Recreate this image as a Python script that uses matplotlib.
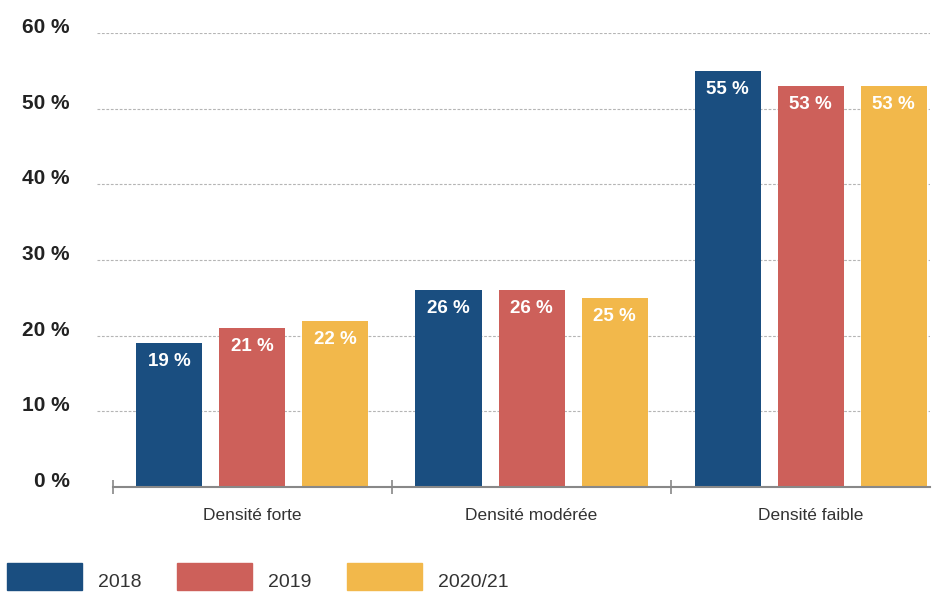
import numpy as np
import matplotlib.pyplot as plt
from matplotlib.patches import Rectangle

plt.rcParams['font.family'] = ['Liberation Sans', 'DejaVu Sans']

categories = ['Densité forte', 'Densité modérée', 'Densité faible']
years = ['2018', '2019', '2020/21']
values = {
    '2018': [19, 26, 55],
    '2019': [21, 26, 53],
    '2020/21': [22, 25, 53],
}
colors = ['#1a4e80', '#cd605a', '#f2b84b']
yticks = [0, 10, 20, 30, 40, 50, 60]

fig = plt.figure(figsize=(9.34, 5.92), dpi=100)
ax = fig.add_axes([0.1039, 0.1774, 0.8918, 0.7669])

x = np.arange(len(categories))
width = 0.2366
step = 0.2975

for i, year in enumerate(years):
    pos = x + (i - 1) * step
    bars = ax.bar(pos, values[year], width, color=colors[i], zorder=2)
    for b, v in zip(bars, values[year]):
        ax.text(b.get_x() + b.get_width() / 2, v - 1.35, f'{v} %',
                ha='center', va='top', color='white', fontsize=13.5,
                fontweight='bold', zorder=3)

ax.set_xlim(-0.557, 2.428)
ax.set_ylim(0, 60)
ax.set_yticks(yticks)
ax.set_yticklabels([f'{t} %' for t in yticks], fontsize=15, fontweight='bold',
                   color='#222222')
ax.tick_params(axis='y', length=0, pad=19.5)
# labels sit on the gridline, not centred on it
for lbl in ax.get_yticklabels():
    lbl.set_verticalalignment('baseline')
for t in yticks[1:]:
    ax.axhline(t, color='#b5b5b5', lw=0.8, ls=(0, (2.5, 1.5)), zorder=1)

for s in ['top', 'right', 'left']:
    ax.spines[s].set_visible(False)
ax.spines['bottom'].set_bounds(-0.5, 2.428)
ax.spines['bottom'].set_color('#888888')
ax.spines['bottom'].set_linewidth(1.5)

# group separators
ax.set_xticks([-0.5, 0.5, 1.5], minor=True)
ax.tick_params(axis='x', which='minor', length=10, direction='inout',
               color='#888888', width=1.2)
ax.set_xticks(x)
ax.set_xticklabels(categories, fontsize=12.5, color='#333333')
ax.tick_params(axis='x', which='major', length=0, pad=15)

# legend drawn by hand so the labels sit low like the original
W, H = 934, 592
for i, year in enumerate(years):
    x0 = 7 + 170 * i
    fig.add_artist(Rectangle((x0 / W, 2 / H), 75 / W, 27 / H,
                             color=colors[i], transform=fig.transFigure))
    fig.text((x0 + 91) / W, 5 / H, year, fontsize=14, color='#333333',
             ha='left', va='baseline')

fig.savefig('out.png', dpi=100)
